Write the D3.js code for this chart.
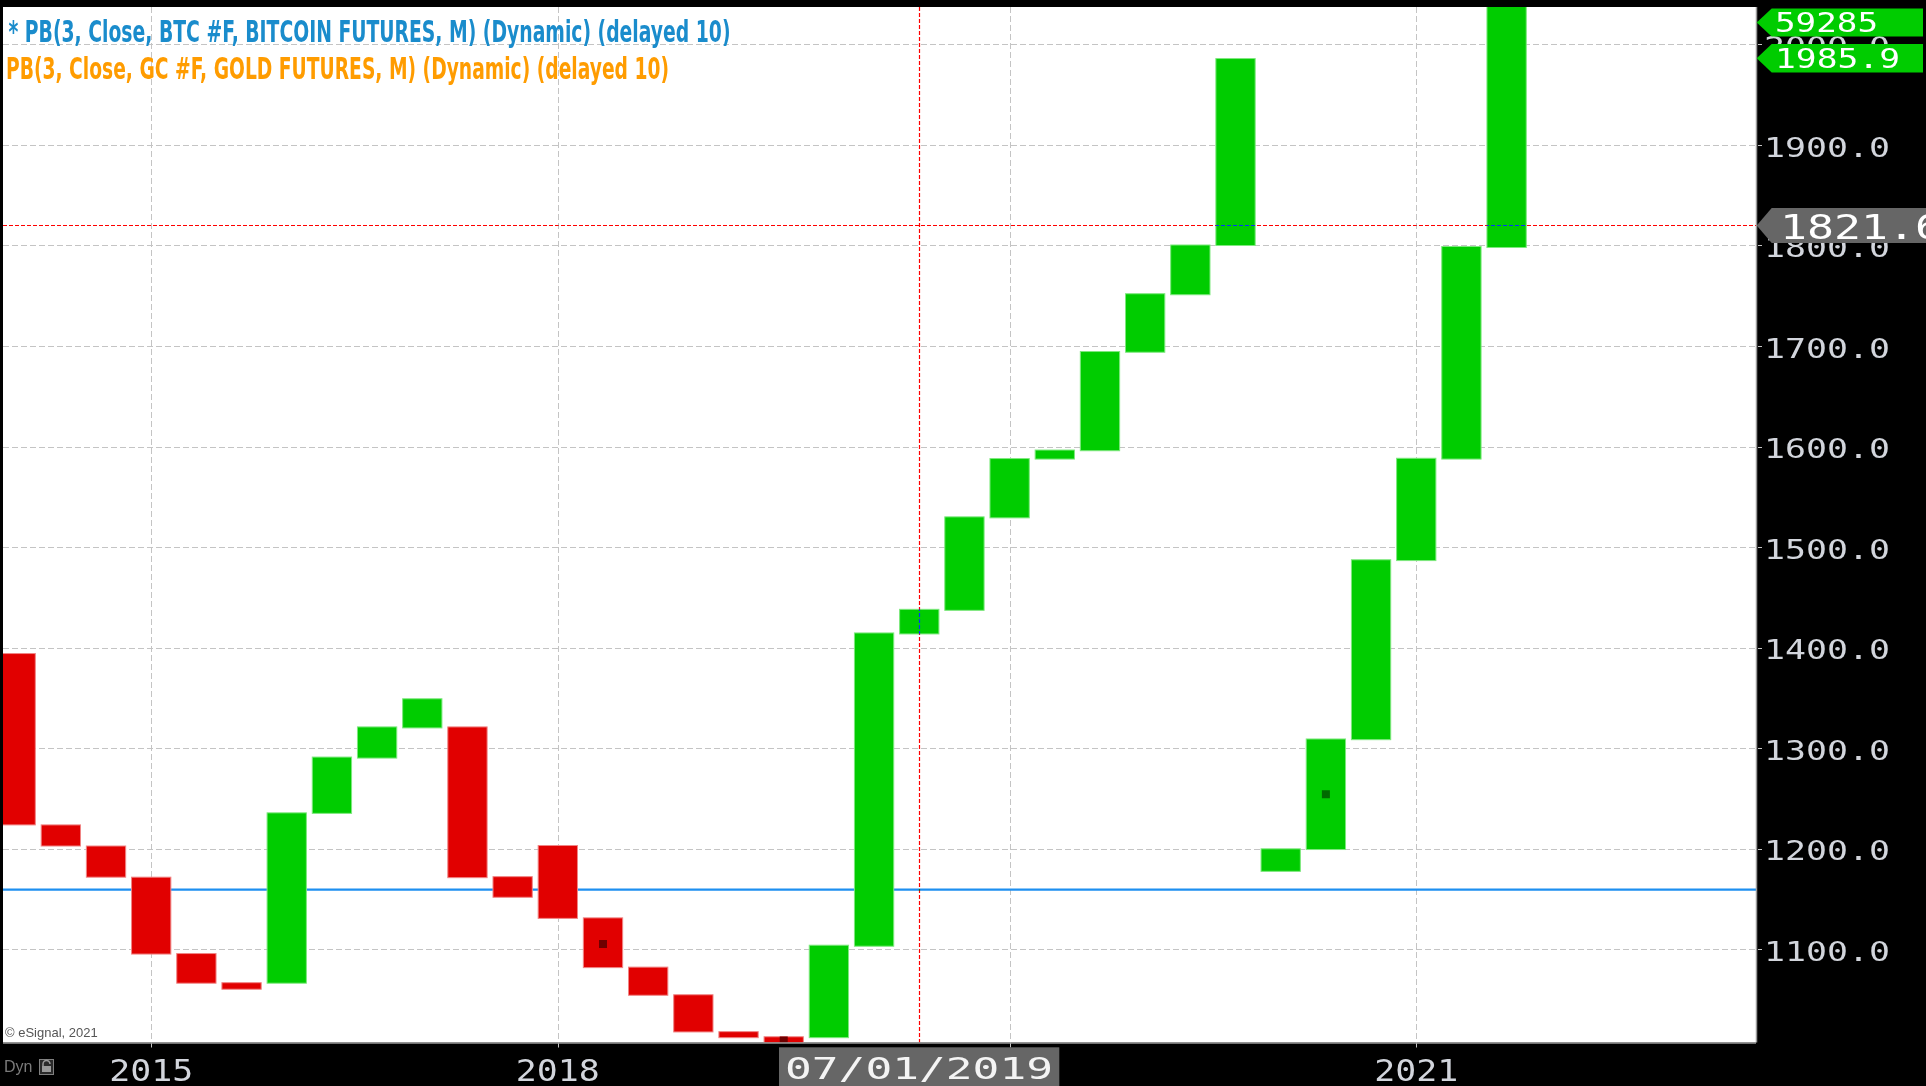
<!DOCTYPE html>
<html>
<head>
<meta charset="utf-8">
<script src="https://cdn.jsdelivr.net/npm/d3@7"></script>
<style>
  html, body { margin: 0; padding: 0; background: #000; }
  svg { display: block; }
</style>
</head>
<body>
<div id="chart"></div>
<script>
// ---------------- DATA ----------------
// Gold futures, three-line price break bars (one per break, left to right)
const barIds = d3.range(34);
const opens = [1394.5,1224,1203,1172,1096,1067,1065.5,1234.5,1289.5,1319.5,1321.5,1172.5,1203.5,1131.5,1082.5,1055,1018.3,1013.2,1011.3,1102.3,1413,1436.5,1528.5,1587,1595.3,1693.3,1750.5,1799.5,1176.8,1198.5,1307.8,1486,1587,1797.5];
const closes = [1223,1202,1171,1094.5,1065.5,1059.5,1236,1291.5,1321.5,1349.5,1170.5,1151,1130,1081,1053.5,1017,1011.3,1000,1104.3,1415,1438.5,1530.5,1588.5,1597,1695,1752.5,1801,1986.5,1200.2,1309.5,1487.8,1588.8,1799.5,2080];
// small marker squares inside some bars
const markerBars = [13, 17, 29];
const markerValues = [1105, 1009, 1254];
// x-axis (year) ticks: bar index and label
const yearTickBars = [3, 12, 22, 31];
const yearTickLabels = ["2015", "2018", "2020", "2021"];
// y-axis ticks
const priceTicks = [1100, 1200, 1300, 1400, 1500, 1600, 1700, 1800, 1900, 2000];
// horizontal reference line, crosshair
const refLineValue = 1159.2;
const crossBar = 20;
const crossValue = 1820.8;
const crossDateLabel = "07/01/2019";
const crossPriceLabel = "1821.6";
// last-price tags
const tagTexts = ["59285", "1985.9"];
const tagValues = [2022, 1986.3];
// legend
const legendLines = [
  "* PB(3, Close, BTC #F, BITCOIN FUTURES, M) (Dynamic) (delayed 10)",
  "PB(3, Close, GC #F, GOLD FUTURES, M) (Dynamic) (delayed 10)"
];

// ---------------- LAYOUT ----------------
const W = 1926, H = 1086;
const plot = { left: 3, top: 7, right: 1756, bottom: 1042.5 };
const step = 45.18;
const firstCenter = 15.66;

const x = d3.scaleBand()
  .domain(barIds)
  .range([firstCenter - step / 2, firstCenter + (barIds.length - 0.5) * step])
  .paddingInner(0.108)
  .paddingOuter(0.054);
const xc = i => x(i) + x.bandwidth() / 2;

const y = d3.scaleLinear().domain([1007, 2037.3]).range([plot.bottom, plot.top]);

const svg = d3.select("#chart").append("svg")
  .attr("width", W).attr("height", H)
  .style("background", "#000");

svg.append("defs").append("clipPath").attr("id", "plotClip")
  .append("rect")
  .attr("x", plot.left).attr("y", plot.top)
  .attr("width", plot.right - plot.left).attr("height", plot.bottom - plot.top);

// plot background
svg.append("rect")
  .attr("x", plot.left).attr("y", plot.top)
  .attr("width", plot.right - plot.left).attr("height", plot.bottom - plot.top)
  .attr("fill", "#fff");

// gridlines
const grid = svg.append("g");
grid.selectAll("line.h").data(priceTicks).join("line")
  .attr("class", "h")
  .attr("x1", plot.left).attr("x2", plot.right + 6)
  .attr("y1", d => Math.round(y(d)) + 0.5).attr("y2", d => Math.round(y(d)) + 0.5)
  .attr("stroke", "#c4c4c4").attr("stroke-width", 1).attr("stroke-dasharray", "6,3");
grid.selectAll("line.v").data(yearTickBars).join("line")
  .attr("class", "v")
  .attr("x1", d => Math.round(xc(d)) + 0.5).attr("x2", d => Math.round(xc(d)) + 0.5)
  .attr("y1", plot.top).attr("y2", plot.bottom + 5)
  .attr("stroke", "#c4c4c4").attr("stroke-width", 1).attr("stroke-dasharray", "6,3");

// reference blue line
svg.append("line")
  .attr("x1", plot.left).attr("x2", plot.right)
  .attr("y1", y(refLineValue)).attr("y2", y(refLineValue))
  .attr("stroke", "#1e8ff0").attr("stroke-width", 2.2);

// bars
const RED = "#e10000", GREEN = "#00cc00";
const bars = svg.append("g").attr("clip-path", "url(#plotClip)");
bars.selectAll("rect").data(barIds).join("rect")
  .attr("x", i => x(i) + 0.5)
  .attr("width", x.bandwidth() - 1)
  .attr("y", i => y(Math.max(opens[i], closes[i])) + 0.5)
  .attr("height", i => Math.abs(y(opens[i]) - y(closes[i])) - 1)
  .attr("fill", i => closes[i] >= opens[i] ? GREEN : RED)
  .attr("stroke", i => closes[i] >= opens[i] ? "#7ee87e" : "#f08585")
  .attr("stroke-width", 1);

bars.selectAll("rect.mk").data(markerBars).join("rect")
  .attr("class", "mk")
  .attr("x", (b) => xc(b) - 4)
  .attr("y", (b, k) => y(markerValues[k]) - 4)
  .attr("width", 8).attr("height", 8)
  .attr("fill", b => closes[b] >= opens[b] ? "#006a00" : "#6e0000");

// plot border (right, bottom)
svg.append("line").attr("x1", plot.right + 0.5).attr("x2", plot.right + 0.5)
  .attr("y1", plot.top).attr("y2", plot.bottom).attr("stroke", "#9a9a9a").attr("stroke-width", 1.5);
svg.append("line").attr("x1", plot.left).attr("x2", plot.right)
  .attr("y1", plot.bottom + 0.5).attr("y2", plot.bottom + 0.5).attr("stroke", "#9a9a9a").attr("stroke-width", 1.5);

// crosshair (XOR-like look: red on white, blue on green)
const cx = Math.round(xc(crossBar)) + 0.5;
const cy = Math.round(y(crossValue)) + 0.5;
const cross = svg.append("g").style("mix-blend-mode", "difference");
cross.append("line")
  .attr("x1", cx).attr("x2", cx).attr("y1", plot.top).attr("y2", plot.bottom)
  .attr("stroke", "#00ffff").attr("stroke-width", 1.2).attr("stroke-dasharray", "4,2");
cross.append("line")
  .attr("x1", plot.left).attr("x2", plot.right).attr("y1", cy).attr("y2", cy)
  .attr("stroke", "#00ffff").attr("stroke-width", 1.2).attr("stroke-dasharray", "4,2");

// y-axis labels
const MONO = "'DejaVu Sans Mono', 'Liberation Mono', monospace";
const AXCOL = "#d2d5dc";
svg.append("g").selectAll("text").data(priceTicks).join("text")
  .attr("x", 1764)
  .attr("y", d => y(d) + 11.7)
  .attr("font-family", MONO).attr("font-size", 26)
  .attr("textLength", 126).attr("lengthAdjust", "spacingAndGlyphs")
  .attr("fill", AXCOL)
  .text(d => d3.format(".1f")(d));

// x-axis labels (the one under the crosshair date box is hidden)
const dateBox = { x0: 779, x1: 1059.3 };
const yearData = yearTickBars.map((b, k) => ({ b, label: yearTickLabels[k] }))
  .filter(d => xc(d.b) + 42 < dateBox.x0 || xc(d.b) - 42 > dateBox.x1);
svg.append("g").selectAll("text").data(yearData).join("text")
  .attr("x", d => xc(d.b) - 42)
  .attr("y", 1080.5)
  .attr("font-family", MONO).attr("font-size", 30)
  .attr("textLength", 84).attr("lengthAdjust", "spacingAndGlyphs")
  .attr("fill", AXCOL)
  .text(d => d.label);

// crosshair date box
svg.append("rect").attr("x", dateBox.x0).attr("y", 1047.3)
  .attr("width", dateBox.x1 - dateBox.x0).attr("height", 40).attr("fill", "#666");
svg.append("text").attr("x", 785).attr("y", 1079)
  .attr("font-family", MONO).attr("font-size", 31)
  .attr("textLength", 268).attr("lengthAdjust", "spacingAndGlyphs")
  .attr("fill", "#f4f4f4").text(crossDateLabel);

// price tags (arrow-shaped)
function tag(cyv, h, fill, txt, fs, tl, tx) {
  const g = svg.append("g");
  const tip = plot.right + 0.7, bx = plot.right + 15.7, right = 1923;
  g.append("path")
    .attr("d", `M${tip},${cyv} L${bx},${cyv - h / 2} L${right},${cyv - h / 2} L${right},${cyv + h / 2} L${bx},${cyv + h / 2} Z`)
    .attr("fill", fill);
  g.append("text").attr("x", tx).attr("y", cyv + fs * 0.365)
    .attr("font-family", MONO).attr("font-size", fs)
    .attr("textLength", tl).attr("lengthAdjust", "spacingAndGlyphs")
    .attr("fill", "#fff").text(txt);
}
tag(y(tagValues[0]), 28, GREEN, tagTexts[0], 27, 103, 1775);
tag(y(tagValues[1]), 28.7, GREEN, tagTexts[1], 27, 125, 1775);

// crosshair price tag (clipped at window edge)
{
  const g = svg.append("g");
  const tip = plot.right + 0.7, bx = plot.right + 15.7, h = 35;
  g.append("path")
    .attr("d", `M${tip},${cy} L${bx},${cy - h / 2} L${W + 5},${cy - h / 2} L${W + 5},${cy + h / 2} L${bx},${cy + h / 2} Z`)
    .attr("fill", "#666");
  g.append("text").attr("x", 1780).attr("y", cy + 13.5)
    .attr("font-family", MONO).attr("font-size", 34)
    .attr("textLength", 162).attr("lengthAdjust", "spacingAndGlyphs")
    .attr("fill", "#fff").text(crossPriceLabel);
}

// legend
const LEG = "'Liberation Sans Narrow', 'DejaVu Sans Condensed', 'Arial Narrow', sans-serif";
svg.append("text").attr("x", 8.5).attr("y", 42)
  .attr("font-family", LEG).attr("font-weight", "bold").attr("font-size", 30)
  .attr("textLength", 722).attr("lengthAdjust", "spacingAndGlyphs")
  .attr("fill", "#1a8ccc").text(legendLines[0]);
svg.append("text").attr("x", 6).attr("y", 79)
  .attr("font-family", LEG).attr("font-weight", "bold").attr("font-size", 30)
  .attr("textLength", 663).attr("lengthAdjust", "spacingAndGlyphs")
  .attr("fill", "#ff9c00").text(legendLines[1]);

// copyright
svg.append("text").attr("x", 5).attr("y", 1036.5)
  .attr("font-family", "'Liberation Sans', Arial, sans-serif").attr("font-size", 13)
  .attr("fill", "#555").text("© eSignal, 2021");

// Dyn + lock icon
svg.append("text").attr("x", 4).attr("y", 1072)
  .attr("font-family", "'Liberation Sans', Arial, sans-serif").attr("font-size", 16)
  .attr("fill", "#7a7a7a").text("Dyn");
const lock = svg.append("g").attr("transform", "translate(39,1059)");
lock.append("rect").attr("x", 0.5).attr("y", 0.5).attr("width", 14).attr("height", 15)
  .attr("fill", "#2a2a2a").attr("stroke", "#808080");
lock.append("path").attr("d", "M4,7 L4,5 A3.5,3.5 0 0 1 11,5").attr("fill", "none").attr("stroke", "#9a9a9a").attr("stroke-width", 1.5);
lock.append("rect").attr("x", 3).attr("y", 7).attr("width", 9).attr("height", 6).attr("fill", "#9a9a9a");
</script>
</body>
</html>
